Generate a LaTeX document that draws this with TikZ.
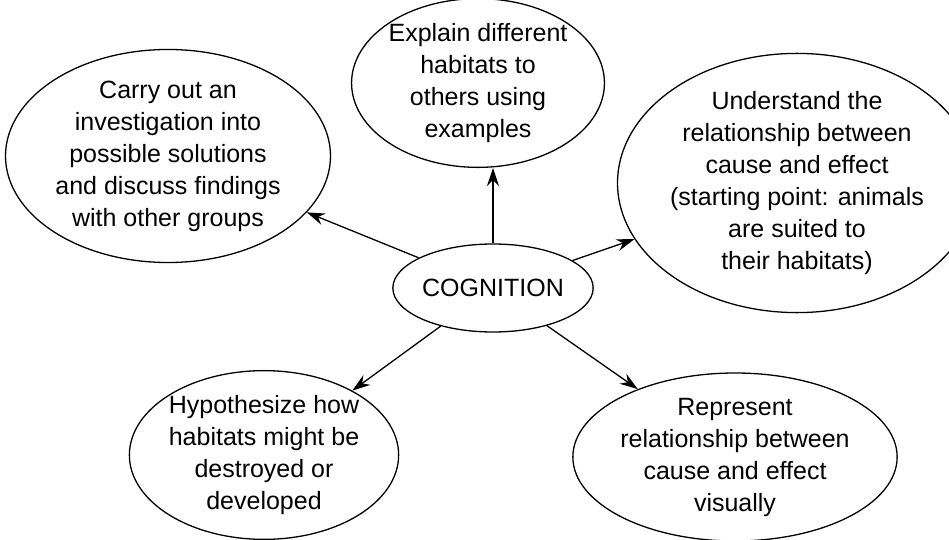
\documentclass[tikz,border=0pt]{standalone}
\usepackage{fontspec}
\setmainfont{Liberation Sans}
\usetikzlibrary{shapes.geometric,arrows.meta}

\tikzset{
  blob/.style={ellipse, draw, line width=1.3pt, inner sep=0pt, align=center,
    font=\fontsize{25}{32}\selectfont},
  link/.style={line width=1.3pt, -{Stealth[length=18pt,width=12pt]}}
}

\begin{document}
\begin{tikzpicture}[x=1pt, y=1pt]
\useasboundingbox (0,0) rectangle (949,539);

\node [blob, minimum width=200, minimum height=88] (cog) at (493,251) {COGNITION};

\node [blob, minimum width=325, minimum height=190] (invest) at (168,383)
  {Carry out an\\investigation into\\possible solutions\\and discuss findings\\with other groups};
\node [blob, minimum width=240, minimum height=152] (explain) at (478,456)
  {Explain different\\habitats to\\others using\\examples};
\node [blob, minimum width=303, minimum height=215] (cause) at (797,356)
  {Understand the\\relationship between\\cause and effect\\(starting point: animals\\are suited to\\their habitats)};
\node [blob, minimum width=252, minimum height=144] (hypo) at (264,84)
  {Hypothesize how\\habitats might be\\destroyed or\\developed};
\node [blob, minimum width=264, minimum height=168] (repr) at (735,82)
  {Represent\\relationship between\\cause and effect\\visually};

\draw [link] (cog) -- (invest);
\draw [link] (cog.north) -- (cog.north |- explain.south);
\draw [link] (cog) -- (cause);
\draw [link] (cog) -- (hypo);
\draw [link] (cog) -- (repr);
\end{tikzpicture}
\end{document}
